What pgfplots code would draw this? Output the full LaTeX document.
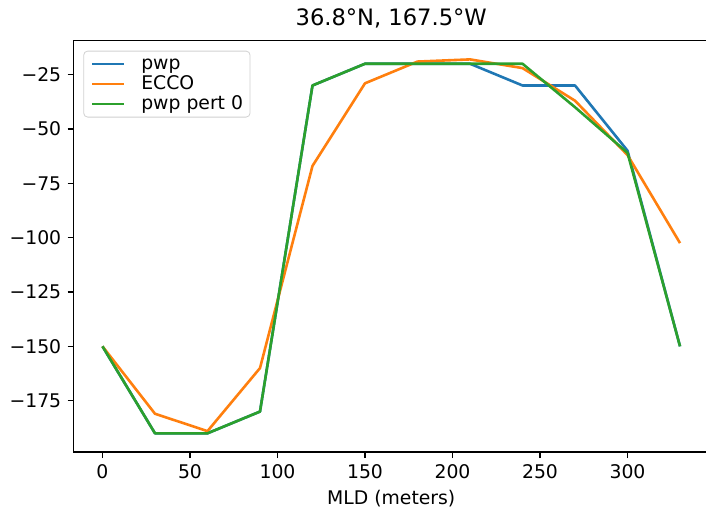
\documentclass[border=0pt]{standalone}
\usepackage{pgfplots}
\pgfplotsset{compat=1.18}
\usepackage{fontspec}
\setmainfont{DejaVu Sans}
\definecolor{mplblue}{HTML}{1F77B4}
\definecolor{mplorange}{HTML}{FF7F0E}
\definecolor{mplgreen}{HTML}{2CA02C}
\begin{document}
\begin{tikzpicture}
\useasboundingbox (-36.8pt,-29pt) rectangle (316.2pt,226pt);
\clip (-36.8pt,-29pt) rectangle (316.2pt,226pt);
\begin{axis}[
  at={(0,0)}, anchor=south west,
  scale only axis, width=317.65pt, height=205.65pt,
  xmin=-16.5, xmax=346.5, ymin=-198.6, ymax=-9.4,
  axis line style={line width=0.65pt},
  tick style={line width=0.65pt, black},
  tick align=outside, major tick length=3pt,
  xtick={0,50,100,150,200,250,300},
  ytick={-175,-150,-125,-100,-75,-50,-25},
  yticklabels={−175,−150,−125,−100,−75,−50,−25},
  xtick pos=bottom, ytick pos=left,
  xticklabels={0,50,100,150,200,250,300},
  ticklabel style={font=\fontsize{9.4}{11}\selectfont, inner sep=0pt},
  xticklabel style={anchor=north, yshift=-3pt},
  yticklabel style={anchor=east, xshift=-3pt},
  xlabel={MLD (meters)},
  xlabel style={at={(axis description cs:0.5,0)}, anchor=base, yshift=-26pt, font=\fontsize{9.4}{11}\selectfont, inner sep=0pt},
  title={36.8°N, 167.5°W},
  title style={at={(axis description cs:0.5,1)}, anchor=base, yshift=1.85pt, font=\fontsize{11.3}{13}\selectfont, inner sep=0pt},
  legend style={at={(0,1)}, anchor=north west, xshift=4.85pt, yshift=-5pt,
    draw=black!18, rounded corners=2pt, fill=white,
    inner xsep=3.5pt, inner ysep=2pt,
    font=\fontsize{9.4}{11}\selectfont,
    nodes={inner sep=0pt, text height=7pt, text depth=2pt, anchor=west},
    row sep=1pt, column sep=8pt},
  legend cell align=left,
  legend image code/.code={\draw[#1] (0pt,0pt) -- (16pt,0pt);},
  every axis plot/.append style={line width=1.3pt, line join=round},
]
\addplot[mplblue] coordinates {
(0,-150) (30,-190) (60,-190) (90,-180) (120,-30) (150,-20) (180,-20) (210,-20) (240,-30) (270,-30) (300,-60) (330,-150)};
\addlegendentry{pwp}
\addplot[mplorange] coordinates {
(0,-150) (30,-181) (60,-189) (90,-160) (120,-67) (150,-29) (180,-19) (210,-18) (240,-22) (270,-37) (300,-62) (330,-102.5)};
\addlegendentry{ECCO}
\addplot[mplgreen] coordinates {
(0,-150) (30,-190) (60,-190) (90,-180) (120,-30) (150,-20) (180,-20) (210,-20) (240,-20) (270,-40) (300,-61) (330,-150)};
\addlegendentry{pwp pert 0}
\end{axis}
\end{tikzpicture}
\end{document}
